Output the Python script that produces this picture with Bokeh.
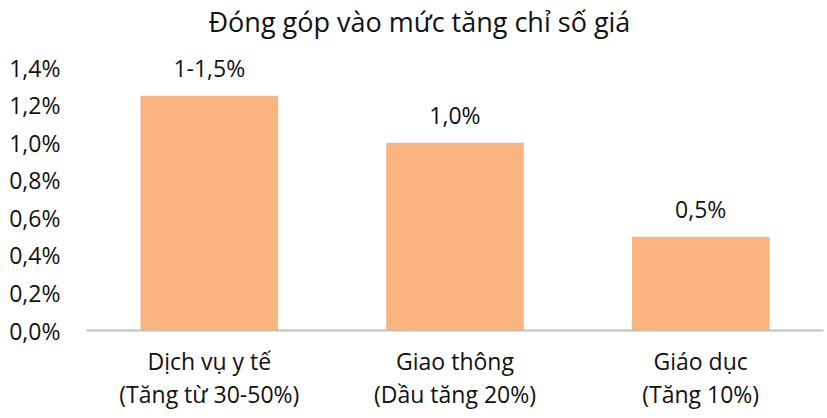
from bokeh.plotting import figure
from bokeh.models import ColumnDataSource, LabelSet, FixedTicker, FactorRange, Range1d, Title
from bokeh.core.properties import value
from bokeh.embed import file_html
from bokeh.resources import INLINE

categories = ["Dịch vụ y tế\n(Tăng từ 30-50%)", "Giao thông\n(Dầu tăng 20%)", "Giáo dục\n(Tăng 10%)"]
values = [1.25, 1.0, 0.5]
value_labels = ["1-1,5%", "1,0%", "0,5%"]
y_ticks = [0.0, 0.2, 0.4, 0.6, 0.8, 1.0, 1.2, 1.4]
y_tick_labels = ["0,0%", "0,2%", "0,4%", "0,6%", "0,8%", "1,0%", "1,2%", "1,4%"]
title_text = "Đóng góp vào mức tăng chỉ số giá"

FONT = "Open Sans"
BAR = "#F9B47F"
TXT = "#111111"

src = ColumnDataSource(dict(cat=categories, val=values, lab=value_labels))

p = figure(x_range=FactorRange(factors=categories, range_padding=0),
           y_range=Range1d(0, 1.55),
           frame_width=737, frame_height=291,
           min_border_left=86, min_border_right=4, min_border_top=0, min_border_bottom=86,
           output_backend="svg", toolbar_location=None)

p.vbar(x="cat", top="val", width=0.56, source=src, fill_color=BAR, line_color=None)

p.add_layout(LabelSet(x="cat", y="val", text="lab", source=src, y_offset=28,
                      text_align="center", text_baseline="middle",
                      text_font=value(FONT), text_font_size="23px", text_color=TXT))

t = Title(text=title_text, align="left", offset=122, standoff=0,
          text_font=FONT, text_font_size="27px", text_font_style="normal", text_color=TXT)
p.add_layout(t, "above")

p.xgrid.grid_line_color = None
p.ygrid.grid_line_color = None
p.outline_line_color = None

p.yaxis.ticker = FixedTicker(ticks=y_ticks)
p.yaxis.major_label_overrides = {v: l for v, l in zip(y_ticks, y_tick_labels)}
p.yaxis.axis_line_color = None
p.yaxis.major_tick_line_color = None
p.yaxis.minor_tick_line_color = None
p.yaxis.major_tick_out = 0
p.yaxis.major_tick_in = 0
p.yaxis.major_label_standoff = 26
p.yaxis.major_label_text_font = FONT
p.yaxis.major_label_text_font_size = "23px"
p.yaxis.major_label_text_color = TXT

p.xaxis.axis_line_color = "#BFBFBF"
p.xaxis.axis_line_width = 2
p.xaxis.major_tick_line_color = None
p.xaxis.minor_tick_line_color = None
p.xaxis.major_tick_out = 0
p.xaxis.major_tick_in = 0
p.xaxis.major_label_standoff = 14
p.xaxis.major_label_text_font = FONT
p.xaxis.major_label_text_font_size = "23px"
p.xaxis.major_label_text_color = TXT
p.xaxis.major_label_text_line_height = 1.05

open("out.html", "w").write(file_html(p, INLINE))
